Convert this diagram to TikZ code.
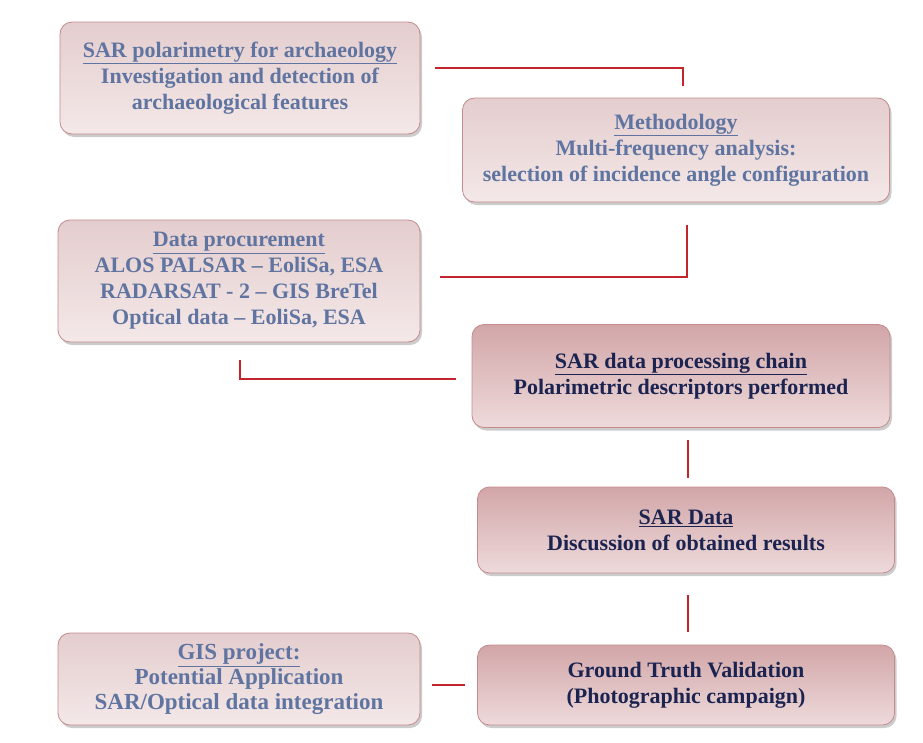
\documentclass[tikz,border=0pt]{standalone}
\usepackage{fontspec}
\setmainfont{Liberation Serif}
\usetikzlibrary{shadows}
\definecolor{fadetxt}{HTML}{5F74A0}
\definecolor{darktxt}{HTML}{1B2350}
\definecolor{boxline}{HTML}{C48A8C}
\definecolor{lightA}{HTML}{E4CDCE}
\definecolor{lightB}{HTML}{F4E8E8}
\definecolor{darkA}{HTML}{D2A6A8}
\definecolor{darkB}{HTML}{EEDADB}
\definecolor{conn}{HTML}{C2262C}
\tikzset{
  box/.style={draw=boxline, line width=0.8pt, rounded corners=12pt, align=center,
    font=\bfseries\fontsize{22}{26}\selectfont, inner sep=0pt,
    drop shadow={shadow xshift=2pt, shadow yshift=-3pt, opacity=0.4}},
  fadebox/.style={box, top color=lightA, bottom color=lightB, text=fadetxt},
  darkbox/.style={box, top color=darkA, bottom color=darkB, text=darktxt},
  widerfont/.style={font=\bfseries\fontsize{23}{25}\selectfont},
  link/.style={draw=conn, line width=2pt}
}
\begin{document}
\begin{tikzpicture}[x=1pt,y=-1pt]
\useasboundingbox (0,0) rectangle (923,742);
\node[fadebox, minimum width=360, minimum height=112] (polar) at (240,78)
  {\underline{SAR polarimetry for archaeology}\\Investigation and detection of\\archaeological features};
\node[fadebox, minimum width=427, minimum height=104] (method) at (676,150)
  {\underline{Methodology}\\Multi-frequency analysis:\\selection of incidence angle configuration};
\node[fadebox, minimum width=362, minimum height=122] (procure) at (239,281)
  {\underline{Data procurement}\\ALOS PALSAR -- EoliSa, ESA\\RADARSAT - 2 -- GIS BreTel\\Optical data -- EoliSa, ESA};
\node[darkbox, minimum width=418, minimum height=103] (chain) at (681,376)
  {\underline{SAR data processing chain}\\Polarimetric descriptors performed};
\node[darkbox, minimum width=417, minimum height=86] (sardata) at (686,530)
  {\underline{SAR Data}\\Discussion of obtained results};
\node[fadebox, widerfont, minimum width=362, minimum height=92] (gis) at (239,679)
  {\underline{GIS project:}\\Potential Application\\SAR/Optical data integration};
\node[darkbox, minimum width=417, minimum height=80] (ground) at (686,685)
  {Ground Truth Validation\\(Photographic campaign)};
% connectors
\coordinate (a1) at (435,68);
\coordinate (a2) at (683,86);
\draw[link] (a1) -| (a2);
\coordinate (b1) at (440,277);
\coordinate (b2) at (687,225);
\draw[link] (b1) -| (b2);
\coordinate (c1) at (240,360);
\coordinate (c2) at (456,379);
\draw[link] (c1) |- (c2);
\coordinate (d1) at (688,440);
\coordinate (d2) at (688,478);
\draw[link] (d1) -- (d2);
\coordinate (e1) at (688,595);
\coordinate (e2) at (688,632);
\draw[link] (e1) -- (e2);
\coordinate (f1) at (432,685);
\coordinate (f2) at (465,685);
\draw[link] (f1) -- (f2);
\end{tikzpicture}
\end{document}
